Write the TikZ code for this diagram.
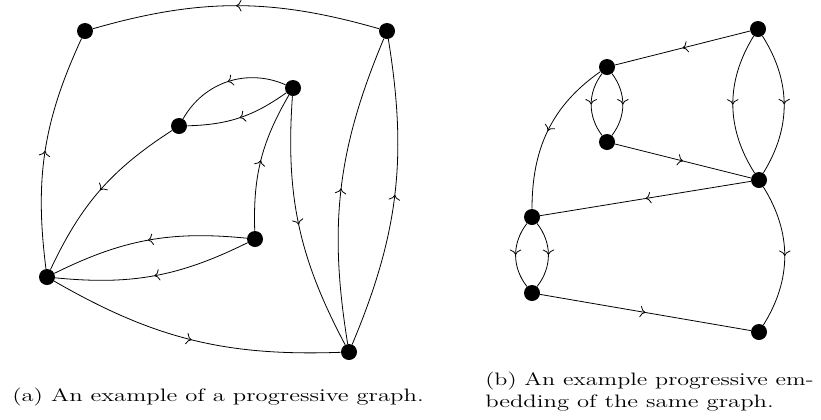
\documentclass[tikz,border=0pt]{standalone}
\usepackage{graphicx}
\usetikzlibrary{decorations.markings,arrows.meta}
\tikzset{
  vtx/.style={circle,fill=black,inner sep=0pt,minimum size=12pt},
  edge/.style={line width=0.6pt,postaction={decorate,decoration={markings,mark=at position 0.5 with {\arrow{To[scale=1.4]}}}}},
  captext/.style={font=\fontsize{13.5}{16.5}\selectfont,inner sep=0pt,anchor=base west}
}
\begin{document}
\begin{tikzpicture}[x=0.75pt,y=0.75pt]
\useasboundingbox (0,0) rectangle (821,-419);
% left graph
\node[vtx] (A) at (85,-31) {};
\node[vtx] (B) at (387,-31) {};
\node[vtx] (C) at (293,-88) {};
\node[vtx] (D) at (179,-126) {};
\node[vtx] (E) at (255,-239) {};
\node[vtx] (F) at (47,-277) {};
\node[vtx] (G) at (349,-352) {};
\draw[edge] (B) to[bend right=16] (A);
\draw[edge] (F) to[bend left=16] (A);
\draw[edge] (C) to[bend right=42] (D);
\draw[edge] (C) to[bend left=17] (D);
\draw[edge] (D) to[bend right=16] (F);
\draw[edge] (E) to[bend left=16] (C);
\draw[edge] (C) to[bend right=16] (G);
\draw[edge] (E) to[bend right=16] (F);
\draw[edge] (E) to[bend left=16] (F);
\draw[edge] (F) to[bend right=16] (G);
\draw[edge] (G) to[bend left=16] (B);
\draw[edge] (G) to[bend right=16] (B);
% right graph
\node[vtx] (P) at (758,-29) {};
\node[vtx] (Q) at (607,-67) {};
\node[vtx] (R) at (607,-142) {};
\node[vtx] (S) at (759,-180) {};
\node[vtx] (T) at (532,-217) {};
\node[vtx] (U) at (532,-293) {};
\node[vtx] (V) at (759,-332) {};
\draw[edge] (P) -- (Q);
\draw[edge] (P) to[bend right=32] (S);
\draw[edge] (P) to[bend left=32] (S);
\draw[edge] (Q) to[bend right=37] (R);
\draw[edge] (Q) to[bend left=37] (R);
\draw[edge] (R) -- (S);
\draw[edge] (S) -- (T);
\draw[edge] (Q) to[out=215,in=90] (T);
\draw[edge] (T) to[bend right=38] (U);
\draw[edge] (T) to[bend left=38] (U);
\draw[edge] (U) -- (V);
\draw[edge] (S) to[bend left=32] (V);
% captions
\node[captext] (capa) at (12,-401) {\scalebox{1.37}[1]{(a) An example of a progressive graph.}};
\node[captext] (capb) at (485,-385) {\begin{tabular}[t]{@{}l@{}}\scalebox{1.335}[1]{(b) An example progressive em-}\\ \scalebox{1.37}[1]{bedding of the same graph.}\end{tabular}};
\end{tikzpicture}
\end{document}
